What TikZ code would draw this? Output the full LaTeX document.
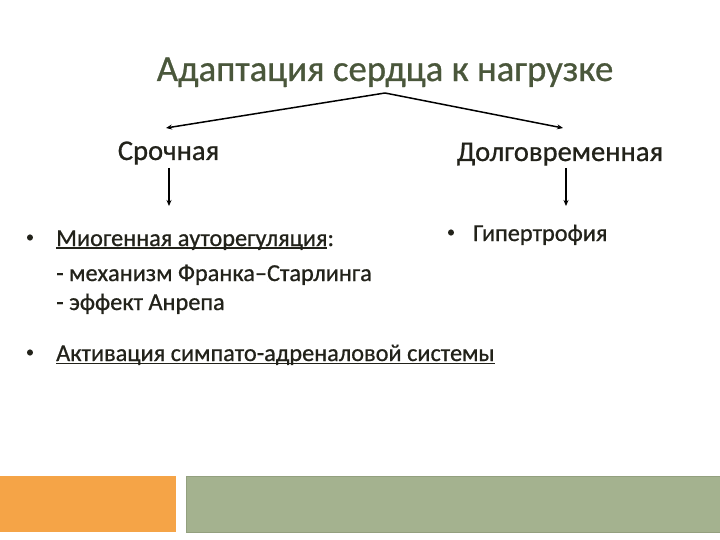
\documentclass[tikz,border=0pt]{standalone}
\usepackage{fontspec}
\setmainfont{Carlito}[FakeBold=0.7]
\usetikzlibrary{arrows.meta}
\definecolor{titlecol}{HTML}{4A573B}
\definecolor{textcol}{HTML}{22221A}
\definecolor{orangebar}{HTML}{F5A447}
\definecolor{greenbar}{HTML}{A4B28F}
\definecolor{greenedge}{HTML}{93A07F}
\newcommand\myul[1]{\setbox0\hbox{#1}\rlap{\color{textcol}\rule[-3.2pt]{\wd0}{1.7pt}}\box0}
\begin{document}
\begin{tikzpicture}[x=1pt,y=-1pt,
  titletext/.style={font=\fontsize{36.8}{40}\selectfont, text=titlecol, inner sep=0pt, anchor=base},
  headtext/.style={font=\fontsize{28.6}{32}\selectfont, text=textcol, inner sep=0pt, anchor=base},
  itemtext/.style={font=\fontsize{24.3}{28}\selectfont, text=textcol, inner sep=0pt, anchor=base west},
  bullettext/.style={font=\fontsize{16}{20}\selectfont, text=textcol, inner sep=0pt, anchor=base},
  arr/.style={line width=1.5pt, draw=black, -{Stealth[length=6pt,width=5pt]}}
]
\useasboundingbox (0,0) rectangle (720,540);
\fill[white] (0,0) rectangle (720,540);

% title
\node[titletext] (title) at (385,81) {Адаптация сердца к нагрузке};
\coordinate (apex) at (385,93);

% headings
\node[headtext] (sroch) at (168.5,160) {Срочная};
\node[headtext] (dolg) at (560,161) {Долговременная};

\coordinate (srochtip) at (166,128);
\coordinate (dolgtip) at (563,128);
\draw[arr] (apex) -- (srochtip);
\draw[arr] (apex) -- (dolgtip);

\coordinate (srochdown) at (169,168);
\coordinate (srochend) at (169,206);
\coordinate (dolgdown) at (566,168);
\coordinate (dolgend) at (566,206);
\draw[arr] (srochdown) -- (srochend);
\draw[arr] (dolgdown) -- (dolgend);

% left items
\node[bullettext] (b1) at (30,242) {•};
\node[itemtext] (myo) at (56,246) {\myul{Миогенная ауторегуляция}:};
\node[itemtext] (frank) at (56,281) {- механизм Франка–Старлинга};
\node[itemtext] (anrep) at (56,310) {- эффект Анрепа};

\node[bullettext] (b2) at (30,357) {•};
\node[itemtext] (symp) at (56,361) {\myul{Активация симпато-адреналовой системы}};

% right item
\node[bullettext] (b3) at (451,237) {•};
\node[itemtext] (hyper) at (473,241) {Гипертрофия};

% bottom bars
\fill[orangebar] (0,476) rectangle (176,532);
\filldraw[fill=greenbar, draw=greenedge, line width=0.8pt] (186,476) rectangle (721,532);
\end{tikzpicture}
\end{document}
